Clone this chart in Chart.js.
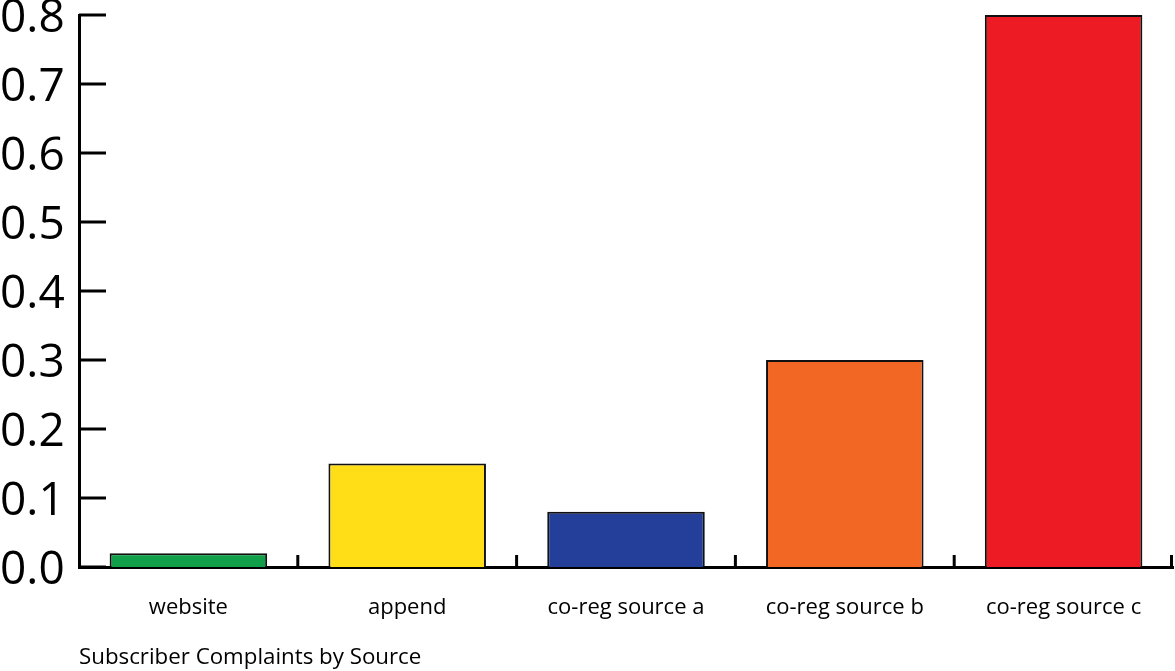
<!DOCTYPE html>
<html>
<head>
<meta charset="utf-8">
<script src="https://cdn.jsdelivr.net/npm/chart.js@4"></script>
<style>
  html, body { margin: 0; padding: 0; background: #fff; }
  #wrap { width: 1175px; height: 671px; }
</style>
</head>
<body>
<div id="wrap"><canvas id="c" width="1175" height="671"></canvas></div>
<script>
const categories = ["website", "append", "co-reg source a", "co-reg source b", "co-reg source c"];
const complaints = [0.02, 0.15, 0.08, 0.30, 0.80];
const barColors = ["#10a04a", "#ffdd17", "#233f9a", "#f26724", "#ed1c24"];
const yTickValues = [0.0, 0.1, 0.2, 0.3, 0.4, 0.5, 0.6, 0.7, 0.8];
const xAxisTitle = "Subscriber Complaints by Source";

const FONT = "'Open Sans', 'Noto Sans', sans-serif";
const Y_LABEL_SHIFT = 4;

const innerTicks = {
  id: 'innerTicks',
  afterLayout(chart) {
    const ys = chart.scales.y;
    if (ys && !ys._shifted) {
      ys._shifted = true;
      ys._computeLabelArea = function () { return undefined; };
      const orig = ys.drawLabels.bind(ys);
      ys.drawLabels = function (area) {
        const c = chart.ctx;
        c.save();
        c.translate(0, Y_LABEL_SHIFT);
        orig(area);
        c.restore();
      };
    }
  },
  afterDatasetsDraw(chart) {
    const ctx = chart.ctx;
    const xs = chart.scales.x, ys = chart.scales.y;
    const area = chart.chartArea;
    ctx.save();
    ctx.strokeStyle = '#000';
    ctx.lineWidth = 3;
    ctx.lineCap = 'butt';
    ys.ticks.forEach(t => {
      const y = ys.getPixelForValue(t.value);
      ctx.beginPath();
      ctx.moveTo(area.left, y);
      ctx.lineTo(area.left + 27, y);
      ctx.stroke();
    });
    for (let i = 1; i <= categories.length; i++) {
      let x = xs.getPixelForValue(i - 0.5);
      if (i === categories.length) x = Math.min(x, area.right - 1.5);
      ctx.beginPath();
      ctx.moveTo(x, area.bottom);
      ctx.lineTo(x, area.bottom - 12);
      ctx.stroke();
    }
    ctx.restore();
  }
};

const chart = new Chart(document.getElementById('c'), {
  type: 'bar',
  data: {
    labels: categories,
    datasets: [{
      data: complaints,
      backgroundColor: barColors,
      borderColor: '#111',
      borderWidth: 2,
      categoryPercentage: 1.0,
      barPercentage: 0.72
    }]
  },
  options: {
    responsive: false,
    animation: false,
    devicePixelRatio: 1,
    layout: { padding: { top: 15, right: 2, left: 0, bottom: 0 } },
    plugins: {
      legend: { display: false },
      tooltip: { enabled: false },
      title: { display: false }
    },
    scales: {
      x: {
        grid: { display: false, drawTicks: false },
        border: { display: true, color: '#000', width: 3 },
        ticks: {
          color: '#000',
          font: { family: FONT, size: 22 },
          padding: 28,
          maxRotation: 0,
          autoSkip: false
        },
        title: {
          display: true,
          text: xAxisTitle,
          align: 'start',
          color: '#000',
          font: { family: FONT, size: 22.3 },
          padding: { top: 0, bottom: 0 }
        },
        afterFit(scale) { scale.height = 104; scale.paddingLeft = 0; scale.paddingRight = 0; }
      },
      y: {
        min: 0,
        max: 0.8,
        grid: { display: false, drawTicks: false },
        border: { display: true, color: '#000', width: 3 },
        afterBuildTicks(scale) { scale.ticks = yTickValues.map(v => ({ value: v })); },
        ticks: {
          color: '#000',
          font: { family: FONT, size: 46 },
          crossAlign: 'far',
          padding: 0,
          callback: (v) => Number(v).toFixed(1)
        },
        afterFit(scale) {
          scale.width = 79; scale.paddingTop = 0; scale.paddingBottom = 0;
        }
      }
    }
  },
  plugins: [innerTicks]
});
</script>
</body>
</html>
